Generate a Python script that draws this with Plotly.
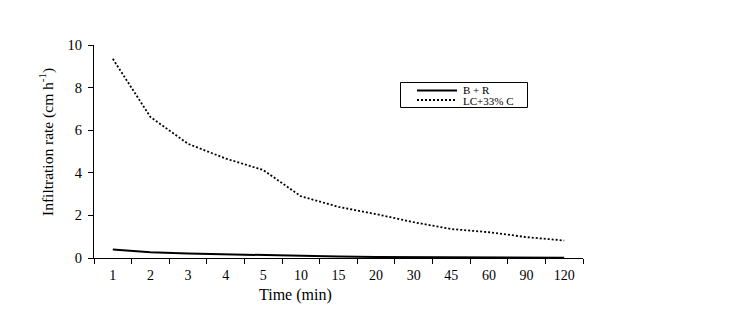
import plotly.graph_objects as go

time_labels = ["1", "2", "3", "4", "5", "10", "15", "20", "30", "45", "60", "90", "120"]
br_values = [0.40, 0.27, 0.21, 0.17, 0.14, 0.09, 0.07, 0.05, 0.04, 0.03, 0.02, 0.01, 0.01]
lc_values = [9.35, 6.62, 5.36, 4.67, 4.13, 2.90, 2.40, 2.06, 1.68, 1.36, 1.21, 0.98, 0.82]
series_names = ["B + R", "LC+33% C"]

FONT = "Liberation Serif, Times New Roman, serif"

# page body has an 8px margin; compensate so the plot sits where the reference has it
OFF = 8
W, H = 744 - OFF, 310 - OFF
PL, PR, PT, PB = 94, 583, 45, 258  # plot area in window pixels
L = PL - OFF
T = PT - OFF
R = W + OFF - PR
B = H + OFF - PB


def px(x):
    return (x - PL) / (PR - PL)


def py(y):
    return (PB - y) / (PB - PT)


fig = go.Figure()
fig.add_trace(go.Scatter(x=time_labels, y=br_values, mode="lines", name=series_names[0],
                         line=dict(color="black", width=2), showlegend=False))
fig.add_trace(go.Scatter(x=time_labels, y=lc_values, mode="lines", name=series_names[1],
                         line=dict(color="black", width=1.8, dash="2px,2px"), showlegend=False))

shapes = [
    dict(type="rect", xref="paper", yref="paper", x0=px(400.5), x1=px(527.5),
         y0=py(107.5), y1=py(82.5), line=dict(color="black", width=1), fillcolor="white"),
    dict(type="line", xref="paper", yref="paper", x0=px(417), x1=px(457),
         y0=py(90.5), y1=py(90.5), line=dict(color="black", width=2)),
    dict(type="line", xref="paper", yref="paper", x0=px(417), x1=px(457),
         y0=py(100), y1=py(100), line=dict(color="black", width=1.8, dash="2px,2px")),
]

annotations = [
    dict(text=series_names[0], xref="paper", yref="paper", x=px(462), y=py(90),
         xanchor="left", yanchor="middle", showarrow=False, font=dict(size=11), borderpad=0),
    dict(text=series_names[1], xref="paper", yref="paper", x=px(462), y=py(100.5),
         xanchor="left", yanchor="middle", showarrow=False, font=dict(size=11), borderpad=0),
    dict(text="Time (min)", xref="paper", yref="paper", x=px(295), y=py(295),
         xanchor="center", yanchor="middle", showarrow=False, font=dict(size=16)),
    dict(text="Infiltration rate (cm h<sup>-1</sup>)", xref="paper", yref="paper",
         x=px(46), y=py(142), textangle=-90, xanchor="center", yanchor="middle",
         showarrow=False, font=dict(size=15.5)),
]

fig.update_layout(
    width=W, height=H,
    margin=dict(l=L, r=R, t=T, b=B, pad=0),
    paper_bgcolor="white", plot_bgcolor="white",
    font=dict(family=FONT, color="black", size=14),
    showlegend=False,
    xaxis=dict(type="category", range=[-0.5, 12.5], showline=True, linecolor="black",
               linewidth=1, ticks="outside", tickson="boundaries", ticklen=5,
               tickcolor="black", showgrid=False, zeroline=False,
               tickfont=dict(size=14), ticklabelstandoff=4),
    yaxis=dict(range=[0, 10], dtick=2, showline=True, linecolor="black", linewidth=1,
               ticks="outside", ticklen=5, tickcolor="black", showgrid=False,
               zeroline=False, tickfont=dict(size=14.5), ticklabelstandoff=3),
    shapes=shapes,
    annotations=annotations,
)

fig.write_html("out.html")
